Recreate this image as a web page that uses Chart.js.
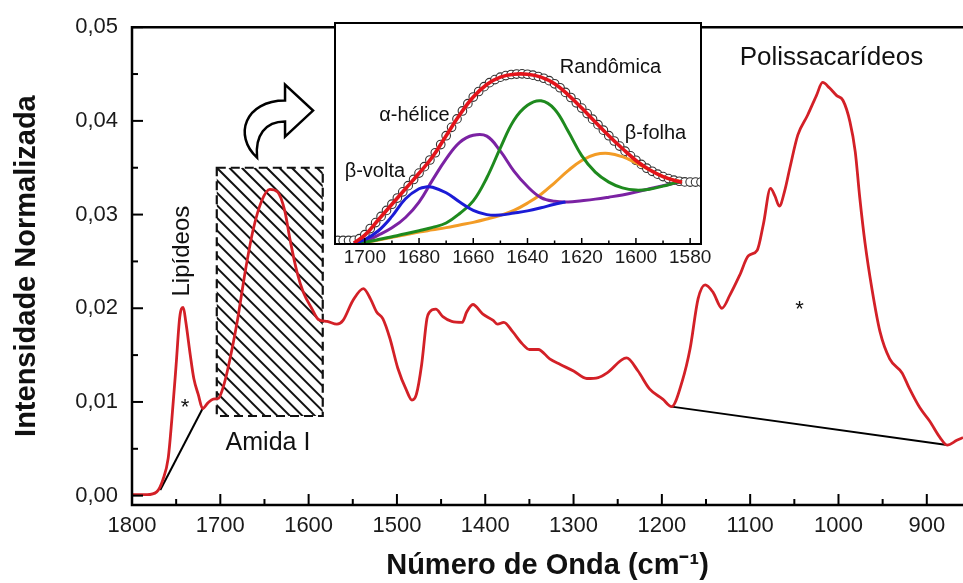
<!DOCTYPE html>
<html>
<head>
<meta charset="utf-8">
<script src="https://cdn.jsdelivr.net/npm/chart.js@4.4.1/dist/chart.umd.min.js"></script>
<style>
  body { margin: 0; background: #fff; }
  #wrap { position: relative; width: 963px; height: 583px; }
  #main { position: absolute; left: 0; top: 0; }
  #inset { position: absolute; left: 325px; top: 13px; }
</style>
</head>
<body>
<div id="wrap">
  <canvas id="main" width="963" height="583"></canvas>
  <canvas id="inset" width="395" height="262"></canvas>
</div>
<script>
// espectro principal (numero de onda, intensidade normalizada)
var wavenumbers = [1800,1783,1772,1765,1759,1755,1750,1746,1742,1739,1734,1730,1725,1720,1714,1708,1702,1697,1692,1681,
  1672,1663,1653,1644,1635,1627,1621,1613,1606,1596,1589,1579,1568,1561,1550,1538,1530,1523,1516,1508,
  1499,1489,1483,1478,1472,1466,1463,1456,1448,1438,1426,1421,1414,1403,1391,1386,1379,1369,1358,1350,
  1340,1327,1315,1300,1285,1272,1262,1240,1227,1214,1199,1189,1177,1168,1159,1151,1142,1132,1123,1112,
  1102,1092,1085,1077,1072,1067,1061,1055,1046,1035,1025,1018,1010,1002,995,987,981,976,970,962,
  953,942,928,920,908,897,885,877,866,859];
var intensity = [0.0001,0.0001,0.0004,0.0017,0.0040,0.0080,0.0140,0.0190,0.0201,0.0185,0.0150,0.0125,0.0108,0.0093,0.0099,0.0103,0.0104,0.0115,0.0133,0.0185,
  0.0238,0.0283,0.0315,0.0327,0.0324,0.0304,0.0273,0.0238,0.0217,0.0199,0.0188,0.0186,0.0183,0.0187,0.0208,0.0221,0.0210,0.0196,0.0189,0.0168,
  0.0136,0.0112,0.0102,0.0108,0.0140,0.0189,0.0196,0.0199,0.0191,0.0186,0.0185,0.0196,0.0204,0.0194,0.0187,0.0183,0.0185,0.0175,0.0162,0.0156,
  0.0156,0.0146,0.0140,0.0133,0.0125,0.0126,0.0131,0.0147,0.0133,0.0114,0.0103,0.0095,0.0122,0.0157,0.0210,0.0225,0.0217,0.0200,0.0214,0.0235,
  0.0256,0.0262,0.0290,0.0328,0.0320,0.0309,0.0325,0.0350,0.0385,0.0406,0.0427,0.0441,0.0435,0.0427,0.0422,0.0399,0.0367,0.0319,0.0270,0.0220,
  0.0175,0.0146,0.0131,0.0115,0.0094,0.0080,0.0062,0.0054,0.0059,0.0062];

// linhas de base
var lipidBaseWn = [1768, 1720];
var lipidBaseVal = [0.0006, 0.0093];
var polyBaseWn = [1189, 877];
var polyBaseVal = [0.0095, 0.0054];

var xTicks = [1800,1700,1600,1500,1400,1300,1200,1100,1000,900];
var xMinor = [1750,1650,1550,1450,1350,1250,1150,1050,950];
var yTicks = [0, 0.01, 0.02, 0.03, 0.04, 0.05];
var yMinor = [0.005, 0.015, 0.025, 0.035, 0.045];

// inset: amida I deconvoluida
var expWn = [1710,1708,1706,1704,1702,1700,1698,1696,1694,1692,1690,1688,1686,1684,1682,1680,1678,1676,1674,1672,
  1670,1668,1666,1664,1662,1660,1658,1656,1654,1652,1650,1648,1646,1644,1642,1640,1638,1636,1634,1632,
  1630,1628,1626,1624,1622,1620,1618,1616,1614,1612,1610,1608,1606,1604,1602,1600,1598,1596,1594,1592,
  1590,1588,1586,1584,1582,1580,1578,1576];
var expVal = [0.016,0.016,0.016,0.017,0.024,0.042,0.070,0.097,0.125,0.152,0.180,0.208,0.236,0.264,0.292,0.321,0.350,0.380,0.413,0.450,
  0.490,0.528,0.566,0.602,0.635,0.665,0.690,0.712,0.730,0.744,0.755,0.762,0.767,0.769,0.770,0.768,0.764,0.758,0.750,0.739,
  0.725,0.707,0.686,0.663,0.639,0.615,0.590,0.565,0.540,0.515,0.490,0.466,0.443,0.420,0.399,0.379,0.360,0.343,0.329,0.316,
  0.305,0.296,0.289,0.284,0.281,0.280,0.280,0.280];

var fitWn = [1704,1700,1695,1690,1685,1680,1675,1670,1665,1660,1655,1650,1645,1640,1635,1630,1625,1620,1615,1610,1605,1600,1595,1590,1585,1583];
var fitVal = [0.005,0.040,0.110,0.180,0.250,0.320,0.395,0.490,0.585,0.665,0.722,0.755,0.768,0.768,0.755,0.725,0.675,0.615,0.552,0.490,0.432,0.378,0.336,0.305,0.285,0.280];
var orangeVal = [0.003,0.008,0.018,0.030,0.042,0.054,0.064,0.074,0.086,0.098,0.113,0.130,0.152,0.185,0.225,0.277,0.332,0.378,0.405,0.410,0.395,0.367,0.336,0.305,0.286,0.282];
var greenVal = [0.003,0.008,0.020,0.033,0.046,0.060,0.075,0.095,0.138,0.195,0.300,0.435,0.560,0.628,0.648,0.610,0.510,0.400,0.325,0.280,0.254,0.244,0.248,0.262,0.278,0.282];
var purpleVal = [0.003,0.012,0.040,0.073,0.120,0.190,0.290,0.385,0.460,0.492,0.488,0.420,0.330,0.260,0.210,0.193,0.190,0.196,0.203,0.212,0.222,0.235,0.250,0.264,0.277,0.282];
var blueWn = [1704,1700,1695,1690,1685,1680,1677,1675,1670,1665,1660,1655,1650,1645,1640,1635,1630,1626];
var blueVal = [0.003,0.020,0.060,0.125,0.205,0.250,0.259,0.257,0.232,0.190,0.152,0.133,0.131,0.140,0.150,0.164,0.180,0.190];

var insetTicks = [1700,1680,1660,1640,1620,1600,1580];
var insetMinor = [1690,1670,1650,1630,1610,1590];

var FONT = "'Liberation Sans', Arial, sans-serif";

function pts(xs, ys) {
  var out = [];
  for (var i = 0; i < xs.length; i++) out.push({x: xs[i], y: ys[i]});
  return out;
}

var mainDecor = {
  id: 'mainDecor',
  beforeDatasetsDraw: function (chart) {
    var ctx = chart.ctx, x = chart.scales.x, y = chart.scales.y;
    // retangulo hachurado (amida I)
    var x0 = x.getPixelForValue(1704), x1 = x.getPixelForValue(1584);
    var y0 = y.getPixelForValue(0.035), y1 = y.getPixelForValue(0.0085);
    ctx.save();
    ctx.beginPath();
    ctx.rect(x0, y0, x1 - x0, y1 - y0);
    ctx.clip();
    ctx.strokeStyle = '#111';
    ctx.lineWidth = 2;
    for (var k = -300; k < 200; k += 12.5) {
      ctx.beginPath();
      ctx.moveTo(x0 + k, y0);
      ctx.lineTo(x0 + k + 300, y0 + 300);
      ctx.stroke();
    }
    ctx.restore();
    ctx.save();
    ctx.strokeStyle = '#111';
    ctx.lineWidth = 2.2;
    ctx.setLineDash([9, 5]);
    ctx.strokeRect(x0, y0, x1 - x0, y1 - y0);
    ctx.restore();
  },
  afterDatasetsDraw: function (chart) {
    var ctx = chart.ctx, x = chart.scales.x, y = chart.scales.y, a = chart.chartArea;
    ctx.save();
    ctx.strokeStyle = '#000';
    ctx.lineWidth = 2.5;
    ctx.beginPath();
    ctx.moveTo(a.right, a.top); ctx.lineTo(a.left, a.top);
    ctx.lineTo(a.left, a.bottom); ctx.lineTo(a.right, a.bottom);
    ctx.stroke();
    ctx.lineWidth = 2;
    xTicks.forEach(function (v) {
      var px = x.getPixelForValue(v);
      ctx.beginPath(); ctx.moveTo(px, a.bottom); ctx.lineTo(px, a.bottom - 11); ctx.stroke();
    });
    xMinor.forEach(function (v) {
      var px = x.getPixelForValue(v);
      ctx.beginPath(); ctx.moveTo(px, a.bottom); ctx.lineTo(px, a.bottom - 6); ctx.stroke();
    });
    yTicks.forEach(function (v) {
      var py = y.getPixelForValue(v);
      ctx.beginPath(); ctx.moveTo(a.left, py); ctx.lineTo(a.left + 11, py); ctx.stroke();
    });
    yMinor.forEach(function (v) {
      var py = y.getPixelForValue(v);
      ctx.beginPath(); ctx.moveTo(a.left, py); ctx.lineTo(a.left + 6, py); ctx.stroke();
    });

    // textos
    ctx.fillStyle = '#111';
    ctx.textAlign = 'center';
    ctx.textBaseline = 'middle';
    ctx.font = '26px ' + FONT;
    ctx.fillText('Polissacarídeos', x.getPixelForValue(1008), y.getPixelForValue(0.0467));
    ctx.font = '25px ' + FONT;
    ctx.fillText('Amida I', x.getPixelForValue(1646), y.getPixelForValue(0.0056));
    ctx.font = '22px ' + FONT;
    ctx.fillText('*', x.getPixelForValue(1740), y.getPixelForValue(0.0099) + 5);
    ctx.fillText('*', x.getPixelForValue(1044), y.getPixelForValue(0.0204) + 5);
    ctx.save();
    ctx.translate(x.getPixelForValue(1743), y.getPixelForValue(0.0261));
    ctx.rotate(-Math.PI / 2);
    ctx.font = '24px ' + FONT;
    ctx.fillText('Lipídeos', 0, 0);
    ctx.restore();

    // seta curva
    var tx = x.getPixelForValue(1595), ty = y.getPixelForValue(0.0411);
    ctx.save();
    ctx.translate(tx, ty);
    ctx.beginPath();
    ctx.moveTo(-56, 47);
    ctx.bezierCurveTo(-80, 25, -68, -10, -28, -10);
    ctx.lineTo(-28, -26);
    ctx.lineTo(0, 0);
    ctx.lineTo(-28, 26);
    ctx.lineTo(-28, 11);
    ctx.bezierCurveTo(-48, 11, -58, 25, -56, 47);
    ctx.closePath();
    ctx.fillStyle = '#fff';
    ctx.fill();
    ctx.lineWidth = 2.5;
    ctx.strokeStyle = '#000';
    ctx.stroke();
    ctx.restore();
    ctx.restore();
  }
};

new Chart(document.getElementById('main'), {
  type: 'line',
  data: {
    datasets: [
      {
        data: pts(wavenumbers, intensity),
        borderColor: '#d32027',
        borderWidth: 2.8,
        pointRadius: 0,
        cubicInterpolationMode: 'monotone',
        order: 0
      },
      {
        data: pts(lipidBaseWn, lipidBaseVal),
        borderColor: '#000',
        borderWidth: 2,
        pointRadius: 0,
        order: 1
      },
      {
        data: pts(polyBaseWn, polyBaseVal),
        borderColor: '#000',
        borderWidth: 2,
        pointRadius: 0,
        order: 1
      }
    ]
  },
  options: {
    responsive: false,
    animation: false,
    devicePixelRatio: 1,
    layout: { padding: { top: 23, right: 0, left: 0, bottom: 0 } },
    plugins: { legend: { display: false }, tooltip: { enabled: false } },
    scales: {
      x: {
        type: 'linear',
        reverse: true,
        min: 859,
        max: 1800,
        afterBuildTicks: function (s) { s.ticks = xTicks.map(function (v) { return {value: v}; }); },
        afterFit: function (s) { s.height = 78; },
        grid: { display: false, drawTicks: false },
        border: { display: false },
        ticks: {
          font: { family: FONT, size: 22 }, color: '#1a1a1a', padding: 8, maxRotation: 0, autoSkip: false,
          callback: function (v) { return String(v); }
        },
        title: {
          display: true,
          text: 'Número de Onda (cm⁻¹)',
          font: { family: FONT, size: 29, weight: 'bold' },
          color: '#111',
          padding: { top: 0, bottom: 0 }
        }
      },
      y: {
        min: -0.001,
        max: 0.05,
        afterBuildTicks: function (s) { s.ticks = yTicks.map(function (v) { return {value: v}; }); },
        afterFit: function (s) { s.width = 132; },
        grid: { display: false, drawTicks: false },
        border: { display: false },
        ticks: {
          font: { family: FONT, size: 22 }, color: '#1a1a1a', padding: 14,
          callback: function (v) { return Number(v).toFixed(2).replace('.', ','); }
        },
        title: {
          display: true,
          text: 'Intensidade Normalizada',
          font: { family: FONT, size: 29, weight: 'bold' },
          color: '#111',
          padding: { top: 10, bottom: 0 }
        }
      }
    }
  },
  plugins: [mainDecor]
});

var insetDecor = {
  id: 'insetDecor',
  beforeDraw: function (chart) {
    var ctx = chart.ctx, a = chart.chartArea;
    ctx.save();
    ctx.fillStyle = '#fff';
    ctx.fillRect(a.left, a.top, a.right - a.left, a.bottom - a.top);
    ctx.restore();
  },
  afterDraw: function (chart) {
    var ctx = chart.ctx, a = chart.chartArea, x = chart.scales.x, y = chart.scales.y;
    ctx.save();
    ctx.strokeStyle = '#000';
    ctx.lineWidth = 2;
    ctx.strokeRect(a.left, a.top, a.right - a.left, a.bottom - a.top);
    ctx.lineWidth = 1.5;
    insetTicks.forEach(function (v) {
      var px = x.getPixelForValue(v);
      ctx.beginPath(); ctx.moveTo(px, a.bottom); ctx.lineTo(px, a.bottom - 6); ctx.stroke();
    });
    insetMinor.forEach(function (v) {
      var px = x.getPixelForValue(v);
      ctx.beginPath(); ctx.moveTo(px, a.bottom); ctx.lineTo(px, a.bottom - 3.5); ctx.stroke();
    });
    ctx.fillStyle = '#111';
    ctx.textAlign = 'center';
    ctx.textBaseline = 'middle';
    ctx.font = '20px ' + FONT;
    ctx.fillText('Randômica', x.getPixelForValue(1609.4), y.getPixelForValue(0.80));
    ctx.fillText('α-hélice', x.getPixelForValue(1681.7), y.getPixelForValue(0.58));
    ctx.fillText('β-folha', x.getPixelForValue(1592.8), y.getPixelForValue(0.50));
    ctx.fillText('β-volta', x.getPixelForValue(1696.3), y.getPixelForValue(0.326));
    ctx.restore();
  }
};

function comp(xs, ys, color, w, order) {
  return { data: pts(xs, ys), borderColor: color, borderWidth: w, pointRadius: 0, tension: 0.4, order: order };
}

new Chart(document.getElementById('inset'), {
  type: 'line',
  data: {
    datasets: [
      comp(fitWn, fitVal, '#e3141b', 3.6, 0),
      comp(blueWn, blueVal, '#1b1bd6', 3, 1),
      comp(fitWn, greenVal, '#1e8a1e', 3, 2),
      comp(fitWn, purpleVal, '#7b22a3', 3, 3),
      comp(fitWn, orangeVal, '#f39c26', 3, 4),
      {
        data: pts(expWn, expVal),
        showLine: false,
        pointRadius: 4.3,
        pointBorderWidth: 1.1,
        pointBorderColor: '#333',
        pointBackgroundColor: '#fff',
        order: 5
      }
    ]
  },
  options: {
    responsive: false,
    animation: false,
    devicePixelRatio: 1,
    layout: { padding: { top: 10, right: 19, left: 10, bottom: 0 } },
    plugins: { legend: { display: false }, tooltip: { enabled: false } },
    scales: {
      x: {
        type: 'linear',
        reverse: true,
        min: 1576,
        max: 1711,
        afterBuildTicks: function (s) { s.ticks = insetTicks.map(function (v) { return {value: v}; }); },
        afterFit: function (s) { s.height = 31; },
        grid: { display: false, drawTicks: false },
        border: { display: false },
        ticks: {
          font: { family: FONT, size: 19 }, color: '#1a1a1a', padding: 2, maxRotation: 0, autoSkip: false,
          callback: function (v) { return String(v); }
        }
      },
      y: { display: false, min: 0, max: 1 }
    }
  },
  plugins: [insetDecor]
});
</script>
</body>
</html>
